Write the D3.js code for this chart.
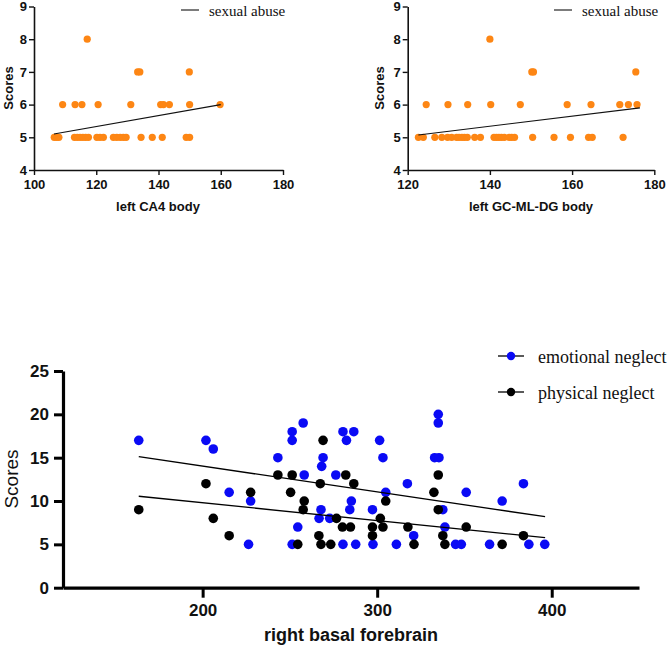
<!DOCTYPE html>
<html>
<head>
<meta charset="utf-8">
<script src="https://cdn.jsdelivr.net/npm/d3@7"></script>
<style>
  html, body { margin: 0; padding: 0; background: #fff; }
  svg { display: block; }
  .sans { font-family: "Liberation Sans", Arial, sans-serif; }
  .serif { font-family: "Liberation Serif", "Times New Roman", serif; }
</style>
</head>
<body>
<svg id="chart" width="669" height="647"></svg>
<script>
// ---------- Data ----------
// Panel A: left CA4 body vs sexual abuse
const ca4X = [106.5,107.3,108.0,113.0,113.9,114.8,115.7,116.6,117.5,120.2,121.2,122.3,125.5,126.6,127.7,128.7,129.6,134.4,138.0,141.2,148.9,150.0,
              109.2,113.2,115.4,120.6,131.1,140.7,141.6,143.5,150.0,159.8,
              133.3,134.0,149.9,
              117.1];
const ca4Y = [5,5,5,5,5,5,5,5,5,5,5,5,5,5,5,5,5,5,5,5,5,5,
              6,6,6,6,6,6,6,6,6,6,
              7,7,7,
              8];
const ca4FitX = [106.4, 160];
const ca4FitY = [5.1, 6.0];
const ca4Ticks = [100,120,140,160,180];

// Panel B: left GC-ML-DG body vs sexual abuse
const gcX = [122.6,123.8,126.6,128.3,129.7,130.7,131.9,132.5,133.2,133.8,134.5,136.3,137.7,141.0,141.6,142.2,142.8,143.5,144.7,145.3,146.0,150.4,155.6,159.6,164.0,164.9,172.4,
             124.5,129.8,134.6,140.2,147.4,158.8,164.6,171.6,173.7,175.8,
             150.2,150.6,175.5,
             140.0];
const gcY = [5,5,5,5,5,5,5,5,5,5,5,5,5,5,5,5,5,5,5,5,5,5,5,5,5,5,5,
             6,6,6,6,6,6,6,6,6,6,
             7,7,7,
             8];
const gcFitX = [122.6, 176.5];
const gcFitY = [5.07, 5.9];
const gcTicks = [120,140,160,180];

const topYTicks = [4,5,6,7,8,9];

// Panel C: right basal forebrain vs neglect
const emoX = [163.4,201.9,206.1,215.2,227.5,226.3,243.1,251.3,251.3,257.6,258.2,254.5,251.3,268.2,269.0,267.8,266.7,272.8,276.3,
              280.4,282.4,286.6,301.4,303.3,317.3,304.9,285.2,284.3,297.3,320.9,280.4,287.7,297.6,311.0,
              335.0,335.0,332.9,335.4,337.6,338.8,344.9,348.2,351.0,364.4,371.6,383.8,386.9,396.0];
const emoY = [17,17,16,11,10,5,15,17,18,19,13,7,5,14,15,9,8,8,13,
              18,17,18,17,15,12,11,10,9,9,6,5,5,5,5,
              20,19,15,15,9,7,5,5,11,5,10,12,5,5];
const physX = [163.4,201.9,206.1,215.2,227.5,243.1,251.3,250.4,258.2,257.6,254.5,269.0,267.4,266.6,267.8,273.4,276.7,282.0,286.6,
               304.9,301.8,303.3,297.3,297.3,280.1,284.7,317.6,321.1,335.0,332.5,335.0,337.6,338.8,351.0,371.6,383.8];
const physY = [9,12,8,6,11,13,13,11,10,9,5,17,12,6,5,5,8,13,12,
               10,8,7,7,6,7,7,7,5,13,11,9,6,5,7,5,6];
const emoFitX = [163.4, 396.2];
const emoFitY = [15.12, 8.19];
const physFitX = [163.4, 396.2];
const physFitY = [10.55, 5.77];
const bfTicks = [200,300,400];
const bfYTicks = [0,5,10,15,20,25];

const orange = "#fd8614";
const blue = "#0a0af5";

const svg = d3.select("#chart");
const intFmt = d3.format("d");

// ---------- Top panels ----------
function topPanel(opts) {
  const x = d3.scaleLinear().domain(opts.xDomain).range(opts.xRange);
  const y = d3.scaleLinear().domain([4, 9]).range([170, 6.5]);
  const g = svg.append("g");

  const ya = g.append("g").attr("transform", `translate(${opts.xRange[0]},0)`)
    .call(d3.axisLeft(y).tickValues(topYTicks).tickFormat(intFmt).tickSize(5).tickPadding(2).tickSizeOuter(0));
  const xa = g.append("g").attr("transform", `translate(0,170)`)
    .call(d3.axisBottom(x).tickValues(opts.xTicks).tickFormat(intFmt).tickSize(5).tickPadding(5).tickSizeOuter(0));
  [ya, xa].forEach(a => {
    a.select(".domain").attr("stroke", "#111").attr("stroke-width", 1.6);
    a.selectAll(".tick line").attr("stroke", "#111").attr("stroke-width", 1.4);
    a.selectAll(".tick text").attr("class", "sans").attr("font-size", 13)
      .attr("font-weight", "bold").attr("fill", "#111");
  });

  g.selectAll("circle.pt").data(opts.xs.map((v, i) => [v, opts.ys[i]])).enter()
    .append("circle").attr("class", "pt")
    .attr("cx", d => x(d[0])).attr("cy", d => y(d[1])).attr("r", 3.6)
    .attr("fill", orange);

  g.append("line")
    .attr("x1", x(opts.fitX[0])).attr("y1", y(opts.fitY[0]))
    .attr("x2", x(opts.fitX[1])).attr("y2", y(opts.fitY[1]))
    .attr("stroke", "#111").attr("stroke-width", 1.1);

  g.append("text").attr("class", "sans").attr("font-size", 13).attr("font-weight", "bold")
    .attr("text-anchor", "middle").attr("fill", "#111")
    .attr("x", opts.titleX).attr("y", 211).text(opts.title);

  g.append("text").attr("class", "sans").attr("font-size", 13).attr("font-weight", "bold")
    .attr("text-anchor", "middle").attr("fill", "#111")
    .attr("transform", `translate(${opts.yTitleX},88) rotate(-90)`).text("Scores");

  g.append("line").attr("x1", opts.legX).attr("x2", opts.legX + 18)
    .attr("y1", 10).attr("y2", 10).attr("stroke", "#111").attr("stroke-width", 1.1);
  g.append("text").attr("class", "serif").attr("font-size", 15).attr("fill", "#111")
    .attr("x", opts.legX + 28).attr("y", 15.5).text("sexual abuse");
}

topPanel({
  xDomain: [100, 180], xRange: [34, 283], xTicks: ca4Ticks,
  xs: ca4X, ys: ca4Y, fitX: ca4FitX, fitY: ca4FitY,
  title: "left CA4 body", titleX: 158, yTitleX: 13, legX: 181
});
topPanel({
  xDomain: [120, 180], xRange: [407.7, 654.3], xTicks: gcTicks,
  xs: gcX, ys: gcY, fitX: gcFitX, fitY: gcFitY,
  title: "left GC-ML-DG body", titleX: 531, yTitleX: 383.5, legX: 554
});

// ---------- Bottom panel ----------
(function () {
  const x = d3.scaleLinear().domain([120, 450]).range([63, 639]);
  const y = d3.scaleLinear().domain([0, 25]).range([587.7, 371]);
  const g = svg.append("g");

  const ya = g.append("g").attr("transform", `translate(63,0)`)
    .call(d3.axisLeft(y).tickValues(bfYTicks).tickFormat(intFmt).tickSize(9).tickPadding(5).tickSizeOuter(0));
  const xa = g.append("g").attr("transform", `translate(0,587.7)`)
    .call(d3.axisBottom(x).tickValues(bfTicks).tickFormat(intFmt).tickSize(10).tickPadding(6).tickSizeOuter(0));
  [ya, xa].forEach(a => {
    a.select(".domain").attr("stroke", "#000").attr("stroke-width", 3.2);
    a.selectAll(".tick line").attr("stroke", "#000").attr("stroke-width", 3);
    a.selectAll(".tick text").attr("class", "sans").attr("font-size", 17)
      .attr("font-weight", "bold").attr("fill", "#111");
  });

  g.selectAll("circle.emo").data(emoX.map((v, i) => [v, emoY[i]])).enter()
    .append("circle").attr("class", "emo")
    .attr("cx", d => x(d[0])).attr("cy", d => y(d[1])).attr("r", 4.8).attr("fill", blue);
  g.selectAll("circle.phys").data(physX.map((v, i) => [v, physY[i]])).enter()
    .append("circle").attr("class", "phys")
    .attr("cx", d => x(d[0])).attr("cy", d => y(d[1])).attr("r", 4.8).attr("fill", "#000");

  [[emoFitX, emoFitY], [physFitX, physFitY]].forEach(f => {
    g.append("line")
      .attr("x1", x(f[0][0])).attr("y1", y(f[1][0]))
      .attr("x2", x(f[0][1])).attr("y2", y(f[1][1]))
      .attr("stroke", "#000").attr("stroke-width", 1.3);
  });

  g.append("text").attr("class", "sans").attr("font-size", 18).attr("font-weight", "bold")
    .attr("text-anchor", "middle").attr("fill", "#111")
    .attr("x", 351).attr("y", 641).text("right basal forebrain");
  g.append("text").attr("class", "sans").attr("font-size", 19)
    .attr("text-anchor", "middle").attr("fill", "#111")
    .attr("transform", `translate(18,479) rotate(-90)`).text("Scores");

  const legend = [
    { label: "emotional neglect", color: blue, y: 356, ty: 363 },
    { label: "physical neglect", color: "#000", y: 392, ty: 398.5 }
  ];
  legend.forEach(l => {
    g.append("line").attr("x1", 498).attr("x2", 524).attr("y1", l.y).attr("y2", l.y)
      .attr("stroke", "#000").attr("stroke-width", 1.3);
    g.append("circle").attr("cx", 511).attr("cy", l.y).attr("r", 4.2).attr("fill", l.color);
    g.append("text").attr("class", "serif").attr("font-size", 18).attr("fill", "#111")
      .attr("x", 538).attr("y", l.ty).text(l.label);
  });
})();
</script>
</body>
</html>
